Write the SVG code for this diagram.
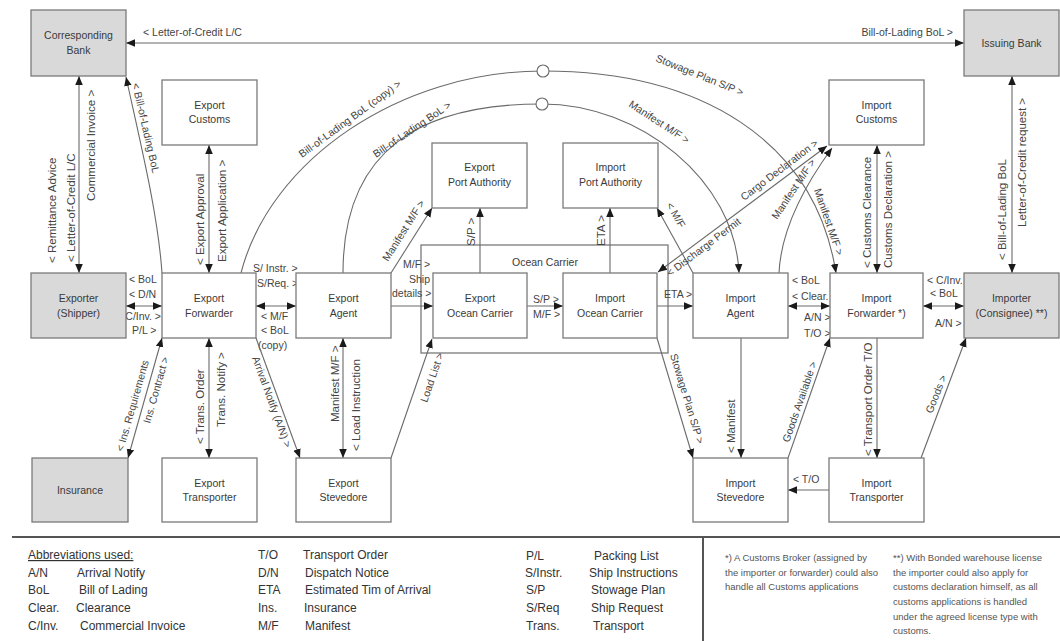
<svg xmlns="http://www.w3.org/2000/svg" width="1060" height="641" viewBox="0 0 1060 641">
<style>
text{font-family:"Liberation Sans",Arial,sans-serif}
.box{fill:#fff;stroke:#7a7a7a;stroke-width:1.3}
.gbox{fill:#d9d9d9;stroke:#7a7a7a;stroke-width:1.3}
.oc{fill:none;stroke:#7a7a7a;stroke-width:1.3}
.ln{fill:none;stroke:#6a6a6a;stroke-width:1.1}
.e{marker-end:url(#ah)}
.b{marker-end:url(#ah);marker-start:url(#ah)}
.nl{font-size:10.5px;fill:#3a3a3a;text-anchor:middle}
.lb{font-size:10.5px;fill:#444}
.lg{font-size:12px;fill:#333}
.nt{font-size:9.5px;fill:#555}
.jc{fill:#fff;stroke:#6a6a6a;stroke-width:1.1}
</style>
<defs>
<marker id="ah" viewBox="0 0 10 10" refX="10" refY="5" markerWidth="9" markerHeight="9" markerUnits="userSpaceOnUse" orient="auto-start-reverse"><path d="M0,0.8 L10,5 L0,9.2 z" fill="#1a1a1a"/></marker>
</defs>
<rect width="1060" height="641" fill="#fff"/>

<g id="n-ocean-carrier"><rect class="oc" x="421" y="245" width="247" height="108"/><text class="nl" x="545" y="266">Ocean Carrier</text></g>

<g id="connectors">
<path class="ln b" d="M126 43H964"/>
<text class="lb" x="143" y="36">&lt; Letter-of-Credit L/C</text>
<text class="lb" x="953" y="36" text-anchor="end">Bill-of-Lading BoL &gt;</text>

<path class="ln b" d="M79 76V273"/>
<text class="lb" transform="translate(56,263) rotate(-90) scale(1.1,1)">&lt; Remittance Advice</text>
<text class="lb" transform="translate(74.5,262) rotate(-90) scale(1.1,1)">&lt; Letter-of-Credit L/C</text>
<text class="lb" transform="translate(95,201) rotate(-90) scale(1.1,1)">Commercial Invoice &gt;</text>

<path class="ln e" d="M162 273C158 215 142 150 126 77"/>
<text class="lb" transform="translate(132,84) rotate(77)">&lt; Bill-of-Lading BoL</text>

<path class="ln b" d="M209 145V273"/>
<text class="lb" transform="translate(204,265) rotate(-90) scale(1.1,1)">&lt; Export Approval</text>
<text class="lb" transform="translate(226,262) rotate(-90) scale(1.1,1)">Export Application &gt;</text>

<path class="ln b" d="M126 306H162"/>
<text class="lb" x="129" y="283">&lt; BoL</text>
<text class="lb" x="129" y="298">&lt; D/N</text>
<text class="lb" x="161" y="320" text-anchor="end">C/Inv. &gt;</text>
<text class="lb" x="132" y="334">P/L &gt;</text>

<path class="ln b" d="M256 306H296"/>
<text class="lb" x="253" y="272">S/ Instr. &gt;</text>
<text class="lb" x="257" y="287">S/Req. &gt;</text>
<text class="lb" x="261" y="320">&lt; M/F</text>
<text class="lb" x="261" y="334">&lt; BoL</text>
<text class="lb" x="258" y="349">(copy)</text>

<path class="ln b" d="M162 338L128 458"/>
<text class="lb" transform="translate(123,452) rotate(-74)">&lt; Ins. Requirements</text>
<text class="lb" transform="translate(150,424) rotate(-74)">Ins. Contract &gt;</text>

<path class="ln b" d="M209 338V458"/>
<text class="lb" transform="translate(204,444) rotate(-90) scale(1.1,1)">&lt; Trans. Order</text>
<text class="lb" transform="translate(225,427) rotate(-90) scale(1.1,1)">Trans. Notify &gt;</text>

<path class="ln e" d="M256 338L300 458"/>
<text class="lb" transform="translate(252,358) rotate(70)">Arrival Notify (A/N) &gt;</text>

<path class="ln b" d="M343 338V458"/>
<text class="lb" transform="translate(339,422) rotate(-90) scale(1.1,1)">Manifest M/F &gt;</text>
<text class="lb" transform="translate(360,451) rotate(-90) scale(1.1,1)">&lt; Load Instruction</text>

<path class="ln e" d="M391 306H433"/>
<text class="lb" x="403" y="268">M/F &gt;</text>
<text class="lb" x="409" y="283">Ship</text>
<text class="lb" x="392" y="297">details &gt;</text>

<path class="ln e" d="M391 273L432 208"/>
<text class="lb" transform="translate(388,262) rotate(-57.8)">Manifest M/F &gt;</text>

<path class="ln e" d="M480 273V208"/>
<text class="lb" transform="translate(475,246) rotate(-90) scale(1.1,1)">S/P &gt;</text>

<path class="ln e" d="M527 306H563"/>
<text class="lb" x="533" y="303">S/P &gt;</text>
<text class="lb" x="533" y="318">M/F &gt;</text>

<path class="ln e" d="M610 273V208"/>
<text class="lb" transform="translate(605,246) rotate(-90) scale(1.1,1)">ETA &gt;</text>

<path class="ln e" d="M657 306H693"/>
<text class="lb" x="664" y="298">ETA &gt;</text>

<path class="ln e" d="M693 273L657 208"/>
<text class="lb" transform="translate(666,205) rotate(60)">&lt; M/F</text>

<path class="ln b" d="M658 272L827 146"/>
<text class="lb" transform="translate(744,201) rotate(-37)">Cargo Declaration &gt;</text>
<text class="lb" transform="translate(670,277) rotate(-37)">&lt; Discharge Permit</text>

<path class="ln e" d="M779 273C781 230 805 185 832 148"/>
<text class="lb" transform="translate(777,220) rotate(-56)">Manifest M/F &gt;</text>

<path class="ln e" d="M343 273C343 150 420 104 542 104C640 104 735 180 739 273"/>
<text class="lb" transform="translate(376,158) rotate(-34)">Bill-of-Lading BoL &gt;</text>
<text class="lb" transform="translate(628,106) rotate(33)">Manifest M/F &gt;</text>

<path class="ln e" d="M241 273C270 160 400 71 543 71C700 71 815 140 836 273"/>
<text class="lb" transform="translate(302,158) rotate(-36)">Bill-of-Lading BoL (copy) &gt;</text>
<text class="lb" transform="translate(655,61) rotate(22)">Stowage Plan S/P &gt;</text>
<text class="lb" transform="translate(814,190) rotate(71)">Manifest M/F &gt;</text>
<circle class="jc" cx="543" cy="71" r="6"/>
<circle class="jc" cx="542" cy="104" r="6"/>

<path class="ln e" d="M657 338L693 458"/>
<text class="lb" transform="translate(670,355) rotate(73)">Stowage Plan S/P &gt;</text>

<path class="ln e" d="M391 458L432 339"/>
<text class="lb" transform="translate(427,403) rotate(-71)">Load List &gt;</text>

<path class="ln e" d="M741 338V458"/>
<text class="lb" transform="translate(735,453) rotate(-90) scale(1.1,1)">&lt; Manifest</text>

<path class="ln e" d="M829 490H788"/>
<text class="lb" x="793" y="483">&lt; T/O</text>

<path class="ln e" d="M788 458L830 338"/>
<text class="lb" transform="translate(789,443) rotate(-70.7)">Goods Available &gt;</text>

<path class="ln e" d="M877 338V458"/>
<text class="lb" transform="translate(872,456) rotate(-90) scale(1.1,1)">&lt; Transport Order T/O</text>

<path class="ln e" d="M921 458L966 338"/>
<text class="lb" transform="translate(932,414) rotate(-68)">Goods &gt;</text>

<path class="ln b" d="M877 145V273"/>
<text class="lb" transform="translate(871,268) rotate(-90) scale(1.1,1)">&lt; Customs Clearance</text>
<text class="lb" transform="translate(892,268) rotate(-90) scale(1.1,1)">Customs Declaration &gt;</text>

<path class="ln b" d="M788 306H830"/>
<text class="lb" x="792" y="284">&lt; BoL</text>
<text class="lb" x="792" y="300">&lt; Clear.</text>
<text class="lb" x="804" y="321">A/N &gt;</text>
<text class="lb" x="804" y="337">T/O &gt;</text>

<path class="ln b" d="M923 306H964"/>
<text class="lb" x="927" y="284">&lt; C/Inv.</text>
<text class="lb" x="930" y="297">&lt; BoL</text>
<text class="lb" x="935" y="327">A/N &gt;</text>

<path class="ln b" d="M1012 76V273"/>
<text class="lb" transform="translate(1006,260) rotate(-90) scale(1.1,1)">&lt; Bill-of-Lading BoL</text>
<text class="lb" transform="translate(1026,227) rotate(-90) scale(1.1,1)">Letter-of-Credit request &gt;</text>
</g>

<g id="n-corresponding-bank"><rect class="gbox" x="31" y="10" width="95" height="66"/><text class="nl" x="78.5" y="39">Corresponding</text><text class="nl" x="78.5" y="54">Bank</text></g>
<g id="n-issuing-bank"><rect class="gbox" x="964" y="10" width="95" height="66"/><text class="nl" x="1011.5" y="47">Issuing Bank</text></g>
<g id="n-export-customs"><rect class="box" x="162" y="80" width="95" height="65"/><text class="nl" x="209.5" y="109">Export</text><text class="nl" x="209.5" y="123">Customs</text></g>
<g id="n-import-customs"><rect class="box" x="829" y="80" width="95" height="65"/><text class="nl" x="876.5" y="109">Import</text><text class="nl" x="876.5" y="123">Customs</text></g>
<g id="n-export-port-authority"><rect class="box" x="432" y="143" width="95" height="65"/><text class="nl" x="479.5" y="171">Export</text><text class="nl" x="479.5" y="186">Port Authority</text></g>
<g id="n-import-port-authority"><rect class="box" x="563" y="143" width="95" height="65"/><text class="nl" x="610.5" y="171">Import</text><text class="nl" x="610.5" y="186">Port Authority</text></g>
<g id="n-exporter"><rect class="gbox" x="31" y="273" width="95" height="65"/><text class="nl" x="78.5" y="302">Exporter</text><text class="nl" x="78.5" y="317">(Shipper)</text></g>
<g id="n-export-forwarder"><rect class="box" x="162" y="273" width="94" height="65"/><text class="nl" x="209" y="302">Export</text><text class="nl" x="209" y="317">Forwarder</text></g>
<g id="n-export-agent"><rect class="box" x="296" y="273" width="95" height="65"/><text class="nl" x="343.5" y="302">Export</text><text class="nl" x="343.5" y="317">Agent</text></g>
<g id="n-export-ocean-carrier"><rect class="box" x="433" y="273" width="94" height="65"/><text class="nl" x="480" y="302">Export</text><text class="nl" x="480" y="317">Ocean Carrier</text></g>
<g id="n-import-ocean-carrier"><rect class="box" x="563" y="273" width="94" height="65"/><text class="nl" x="610" y="302">Import</text><text class="nl" x="610" y="317">Ocean Carrier</text></g>
<g id="n-import-agent"><rect class="box" x="693" y="273" width="95" height="65"/><text class="nl" x="740.5" y="302">Import</text><text class="nl" x="740.5" y="317">Agent</text></g>
<g id="n-import-forwarder"><rect class="box" x="830" y="273" width="93" height="65"/><text class="nl" x="876.5" y="302">Import</text><text class="nl" x="876.5" y="317">Forwarder *)</text></g>
<g id="n-importer"><rect class="gbox" x="964" y="273" width="95" height="65"/><text class="nl" x="1011.5" y="302">Importer</text><text class="nl" x="1011.5" y="317">(Consignee) **)</text></g>
<g id="n-insurance"><rect class="gbox" x="32" y="458" width="96" height="64"/><text class="nl" x="80" y="494">Insurance</text></g>
<g id="n-export-transporter"><rect class="box" x="162" y="458" width="95" height="64"/><text class="nl" x="209.5" y="487">Export</text><text class="nl" x="209.5" y="501">Transporter</text></g>
<g id="n-export-stevedore"><rect class="box" x="296" y="458" width="95" height="64"/><text class="nl" x="343.5" y="487">Export</text><text class="nl" x="343.5" y="501">Stevedore</text></g>
<g id="n-import-stevedore"><rect class="box" x="693" y="458" width="95" height="64"/><text class="nl" x="740.5" y="487">Import</text><text class="nl" x="740.5" y="501">Stevedore</text></g>
<g id="n-import-transporter"><rect class="box" x="829" y="458" width="95" height="64"/><text class="nl" x="876.5" y="487">Import</text><text class="nl" x="876.5" y="501">Transporter</text></g>

<g id="legend">
<path d="M12 537H1060M703 537V641" fill="none" stroke="#555" stroke-width="2"/>
<text class="lg" x="28" y="559" text-decoration="underline">Abbreviations used:</text>
<text class="lg" x="28" y="577">A/N</text><text class="lg" x="77" y="577">Arrival Notify</text>
<text class="lg" x="28" y="594">BoL</text><text class="lg" x="79" y="594">Bill of Lading</text>
<text class="lg" x="28" y="612">Clear.</text><text class="lg" x="76" y="612">Clearance</text>
<text class="lg" x="28" y="630">C/Inv.</text><text class="lg" x="80" y="630">Commercial Invoice</text>
<text class="lg" x="258" y="559">T/O</text><text class="lg" x="303" y="559">Transport Order</text>
<text class="lg" x="258" y="577">D/N</text><text class="lg" x="305" y="577">Dispatch Notice</text>
<text class="lg" x="258" y="594">ETA</text><text class="lg" x="305" y="594">Estimated Tim of Arrival</text>
<text class="lg" x="258" y="612">Ins.</text><text class="lg" x="304" y="612">Insurance</text>
<text class="lg" x="258" y="630">M/F</text><text class="lg" x="305" y="630">Manifest</text>
<text class="lg" x="526" y="560">P/L</text><text class="lg" x="594" y="560">Packing List</text>
<text class="lg" x="525" y="577">S/Instr.</text><text class="lg" x="589" y="577">Ship Instructions</text>
<text class="lg" x="526" y="594">S/P</text><text class="lg" x="591" y="594">Stowage Plan</text>
<text class="lg" x="526" y="612">S/Req</text><text class="lg" x="591" y="612">Ship Request</text>
<text class="lg" x="526" y="630">Trans.</text><text class="lg" x="593" y="630">Transport</text>
<text class="nt" x="725" y="561">*) A Customs Broker (assigned by</text>
<text class="nt" x="725" y="576">the importer or forwarder) could also</text>
<text class="nt" x="725" y="590">handle all Customs applications</text>
<text class="nt" x="893" y="561">**) With Bonded warehouse license</text>
<text class="nt" x="893" y="576">the importer could also apply for</text>
<text class="nt" x="893" y="590">customs declaration himself, as all</text>
<text class="nt" x="893" y="605">customs applications is handled</text>
<text class="nt" x="893" y="620">under the agreed license type with</text>
<text class="nt" x="893" y="634">customs.</text>
</g>
</svg>
